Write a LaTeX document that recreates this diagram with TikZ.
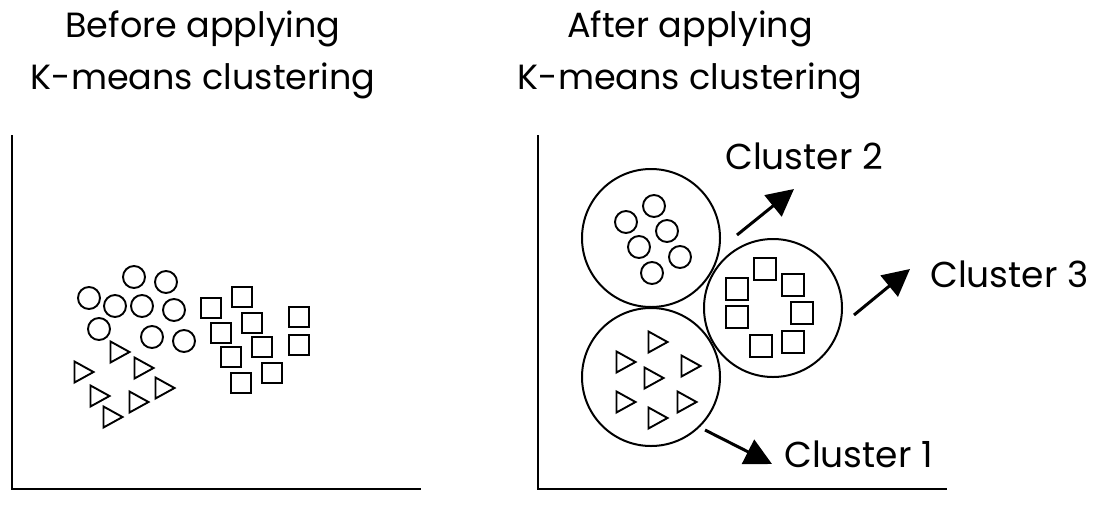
\documentclass[tikz,border=0pt]{standalone}
\usepackage{fontspec}
\setmainfont{Poppins}
\usetikzlibrary{arrows.meta}
\begin{document}
\begin{tikzpicture}[x=1pt,y=-1pt,
  shp/.style={draw=black,line width=1.9pt},
  axis/.style={draw=black,line width=2.2pt},
  big/.style={draw=black,line width=2pt,circle,minimum size=138pt,inner sep=0pt},
  lbl/.style={font=\fontsize{36}{52}\selectfont,inner sep=0pt,anchor=base},
  ttl/.style={font=\fontsize{35}{52}\selectfont,inner sep=0pt,align=center,anchor=north},
  arr/.style={line width=3pt,-{Triangle[length=27pt,width=27pt]}},
  dot/.pic={\draw[shp] (0,0) circle (11);},
  tri/.pic={\draw[shp,line join=miter] (-9.5,-10.5)--(9.5,0)--(-9.5,10.5)--cycle;},
  sqa/.pic={\draw[shp] (-10,-10) rectangle (10,10);},
  sqb/.pic={\draw[shp] (-11,-11) rectangle (11,11);}
]
\useasboundingbox (0,0) rectangle (1095,504);
% titles
\node[ttl] (t1) at (203,11) {Before applying\\K-means clustering};
\node[ttl] (t2) at (690,11) {After applying\\K-means clustering};
% left axes
\coordinate (la) at (12,135);
\coordinate (lo) at (12,489);
\coordinate (lb) at (421,489);
\draw[axis] (la) -- (lo) -- (lb);
% left circles
\foreach \p in {(134,277),(166,282),(89,298),(115,306),(142,306),(174,310),(99,329),(152,337),(184,341)}
  \pic at \p {dot};
% left squares
\foreach \p in {(211,308),(242,297),(221,333),(252,323),(231,357),(262,347),(241,383),(272,373),(299,317),(299,345)}
  \pic at \p {sqa};
% left triangles
\foreach \p in {(120,352),(144,368),(84,372),(165,388),(100,396),(139,402),(113,417)}
  \pic at \p {tri};
% right axes
\coordinate (ra) at (538,135);
\coordinate (ro) at (538,489);
\coordinate (rb) at (947,489);
\draw[axis] (ra) -- (ro) -- (rb);
% big circles
\node[big] (c2) at (651,238) {};
\node[big] (c1) at (651,377) {};
\node[big] (c3) at (773,308) {};
% cluster 2 dots
\foreach \p in {(654,206),(626,222),(667,231),(639,247),(680,257),(652,273)}
  \pic at \p {dot};
% cluster 3 squares
\foreach \p in {(765,269),(737,289),(793,285),(737,317),(802,313),(761,346),(793,342)}
  \pic at \p {sqb};
% cluster 1 triangles
\foreach \p in {(658,342),(626,362),(691,366),(654,378),(626,402),(687,402),(658,418)}
  \pic at \p {tri};
% labels
\node[lbl,anchor=base west] (l2) at (725,169) {Cluster 2};
\node[lbl,anchor=base west] (l3) at (930,287) {Cluster 3};
\node[lbl,anchor=base west] (l1) at (784,467) {Cluster 1};
% arrows
\coordinate (a2s) at (737,235); \coordinate (a2e) at (794,189);
\coordinate (a3s) at (854,315); \coordinate (a3e) at (910,269);
\coordinate (a1s) at (705,430); \coordinate (a1e) at (772,464);
\draw[arr] (a2s) -- (a2e);
\draw[arr] (a3s) -- (a3e);
\draw[arr] (a1s) -- (a1e);
\end{tikzpicture}
\end{document}
